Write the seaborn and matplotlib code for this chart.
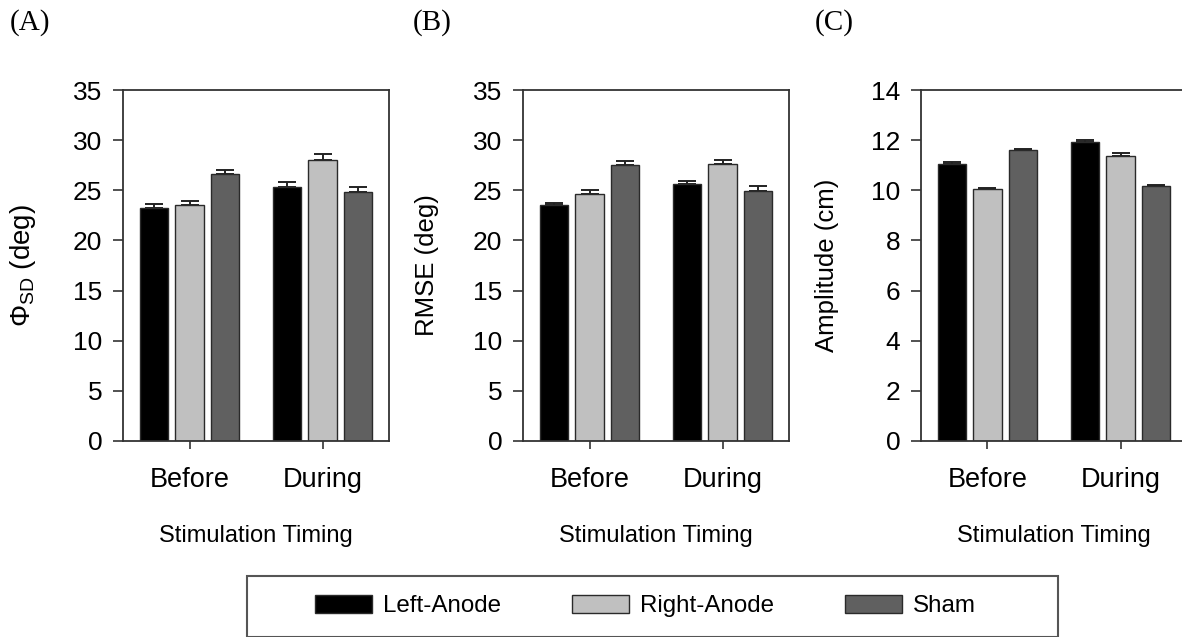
import numpy as np
import pandas as pd
import matplotlib
matplotlib.use("Agg")
import matplotlib.pyplot as plt
from matplotlib.patches import Rectangle, Patch
import seaborn as sns

# ---------------- data ----------------
timings = ["Before", "During"]
conditions = ["Left-Anode", "Right-Anode", "Sham"]

phi_sd_mean = {"Left-Anode": [23.2, 25.3], "Right-Anode": [23.5, 28.0], "Sham": [26.6, 24.8]}
phi_sd_err = {"Left-Anode": [0.4, 0.5], "Right-Anode": [0.4, 0.6], "Sham": [0.4, 0.5]}

rmse_mean = {"Left-Anode": [23.5, 25.6], "Right-Anode": [24.6, 27.6], "Sham": [27.5, 24.9]}
rmse_err = {"Left-Anode": [0.25, 0.35], "Right-Anode": [0.4, 0.4], "Sham": [0.4, 0.5]}

amp_mean = {"Left-Anode": [11.04, 11.91], "Right-Anode": [10.04, 11.38], "Sham": [11.62, 10.16]}
amp_err = {"Left-Anode": [0.09, 0.09], "Right-Anode": [0.05, 0.10], "Sham": [0.04, 0.06]}

panel_labels = ["(A)", "(B)", "(C)"]
y_labels = ["Φ$_{\\mathrm{SD}}$ (deg)", "RMSE (deg)", "Amplitude (cm)"]
x_label = "Stimulation Timing"
y_limits = [(0, 35), (0, 35), (0, 14)]
y_ticks = [np.arange(0, 36, 5), np.arange(0, 36, 5), np.arange(0, 15, 2)]

colors = ["#000000", "#c0c0c0", "#606060"]

# ---------------- style ----------------
sns.set_theme(style="white")
plt.rcParams["font.family"] = ["Liberation Sans", "DejaVu Sans"]
plt.rcParams["mathtext.fontset"] = "custom"
plt.rcParams["mathtext.rm"] = "Liberation Sans"
plt.rcParams["mathtext.it"] = "Liberation Sans:italic"
plt.rcParams["text.color"] = "black"
plt.rcParams["axes.labelcolor"] = "black"
plt.rcParams["xtick.color"] = "black"
plt.rcParams["ytick.color"] = "black"

W, H = 1182, 637
fig = plt.figure(figsize=(W / 100, H / 100), dpi=100)
fig.patch.set_facecolor("white")

ax_left_px = [123, 523, 921]
ax_w_px = 266
ax_top_px, ax_bot_px = 90, 441
panel_label_x = [10, 413, 815]
ylabel_x = [-0.32, -0.315, -0.31]
ylabel_size = [20, 18.5, 18.5]

datasets = [(phi_sd_mean, phi_sd_err), (rmse_mean, rmse_err), (amp_mean, amp_err)]
edge = "#2a2a2a"

for i, (means, errs) in enumerate(datasets):
    ax = fig.add_axes([ax_left_px[i] / W, (H - ax_bot_px) / H, ax_w_px / W,
                       (ax_bot_px - ax_top_px) / H])
    rows = []
    for c in conditions:
        for t, m, e in zip(timings, means[c], errs[c]):
            rows.append({"timing": t, "condition": c, "value": m, "err": e})
    df = pd.DataFrame(rows)
    sns.barplot(data=df, x="timing", y="value", hue="condition", order=timings,
                hue_order=conditions, palette=colors, width=0.8, gap=0.2,
                errorbar=None, edgecolor=edge, linewidth=1.0, legend=False,
                ax=ax, zorder=2)
    # error bars (upper only), drawn below bars so only the upper part shows
    for cont, c in zip(ax.containers, conditions):
        xs = [b.get_x() + b.get_width() / 2 for b in cont]
        ys = [b.get_height() for b in cont]
        e = errs[c]
        ax.errorbar(xs, ys, yerr=[np.zeros(len(e)), e], fmt="none", ecolor="#222222",
                    elinewidth=1.4, capsize=6.5, capthick=1.4, zorder=1)
    ax.set_xlim(-0.5, 1.5)
    ax.set_ylim(*y_limits[i])
    ax.set_yticks(y_ticks[i])
    ax.set_yticklabels([str(v) for v in y_ticks[i]])
    ax.tick_params(axis="y", direction="out", length=7, width=1.2, color="#333333",
                   labelsize=19, labelcolor="black", pad=8, left=True)
    ax.tick_params(axis="x", direction="out", length=6, width=1.2, color="#333333",
                   labelsize=19.5, labelcolor="black", pad=13, bottom=True)
    for s in ax.spines.values():
        s.set_visible(True)
        s.set_color("#333333")
        s.set_linewidth(1.3)
    ax.set_xlabel(x_label, fontsize=17, color="black")
    ax.xaxis.set_label_coords(0.5, -0.24)
    ax.set_ylabel(y_labels[i], fontsize=ylabel_size[i], color="black")
    ax.yaxis.set_label_coords(ylabel_x[i], 0.5)
    fig.text(panel_label_x[i] / W, 1 - 23 / H, panel_labels[i], fontsize=21,
             family=["Liberation Serif", "DejaVu Serif"], ha="left", va="center",
             color="black")

# legend box
fig.patches.append(Rectangle((247 / W, 0), (1058 - 247) / W, (H - 576) / H,
                             transform=fig.transFigure, fill=False,
                             edgecolor="#555555", linewidth=1.5))
handles = [Patch(facecolor=col, edgecolor=edge, linewidth=1.0, label=c)
           for col, c in zip(colors, conditions)]
fig.legend(handles=handles, loc="center left", bbox_to_anchor=(315 / W, 1 - 606 / H),
           ncol=3, frameon=False, fontsize=17.4, handlelength=2.35, handleheight=0.75,
           handletextpad=0.45, columnspacing=2.95, borderpad=0, borderaxespad=0,
           labelcolor="black")

fig.savefig("out.png", dpi=100, facecolor="white")
